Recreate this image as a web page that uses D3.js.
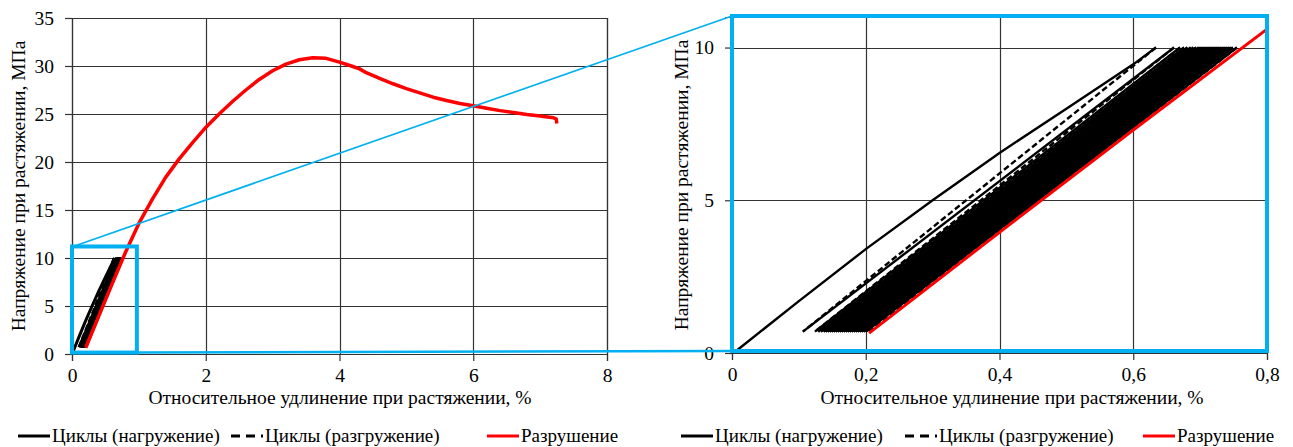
<!DOCTYPE html>
<html>
<head>
<meta charset="utf-8">
<script src="https://cdn.jsdelivr.net/npm/d3@7"></script>
<style>
body{margin:0;background:#fff;}
</style>
</head>
<body>
<div id="chart"></div>
<script>
var w = 1293;
var h = 447;
var serif = "'Liberation Serif'";

// failure curve (Разрушение), strain % / stress MPa
var failX = [0.205, 0.4, 0.6, 0.8, 1.0, 1.2, 1.4, 1.6, 1.8, 2.0, 2.2, 2.4, 2.6, 2.8, 3.0, 3.2, 3.4, 3.6, 3.8, 4.0, 4.2, 4.3, 4.4, 4.6, 4.8, 5.0, 5.2, 5.4, 5.6, 5.8, 6.0, 6.2, 6.4, 6.6, 6.8, 7.0, 7.2, 7.24, 7.25];
var failY = [0.65, 3.95, 7.3, 10.6, 13.6, 16.1, 18.4, 20.3, 22.0, 23.6, 25.0, 26.3, 27.5, 28.6, 29.5, 30.2, 30.65, 30.85, 30.8, 30.4, 29.95, 29.7, 29.3, 28.7, 28.15, 27.65, 27.2, 26.75, 26.4, 26.1, 25.85, 25.6, 25.35, 25.15, 24.95, 24.8, 24.6, 24.5, 24.0];

// first loading from zero
var firstLoadX = [0.008, 0.1, 0.2, 0.3, 0.4, 0.5, 0.6, 0.634];
var firstLoadY = [0.1, 1.7, 3.4, 5.0, 6.55, 8.0, 9.45, 10.0];

// cycles: strain at max stress (one per cycle) and at min stress (start of next loading)
var loadEndX = [0.634, 0.661, 0.670, 0.676, 0.681, 0.686, 0.690, 0.694, 0.698, 0.701, 0.704, 0.707, 0.710, 0.713, 0.716, 0.719, 0.722, 0.725, 0.728, 0.731, 0.734, 0.737, 0.740, 0.743, 0.746, 0.749, 0.755];
var loadStartX = [0.106, 0.124, 0.129, 0.133, 0.137, 0.140, 0.143, 0.146, 0.149, 0.152, 0.155, 0.158, 0.161, 0.164, 0.167, 0.170, 0.173, 0.176, 0.179, 0.182, 0.185, 0.188, 0.191, 0.194, 0.197, 0.200];
var cycleMin = 0.7;
var cycleMax = 10;

var leftXTicks = [0, 2, 4, 6, 8];
var leftYTicks = [0, 5, 10, 15, 20, 25, 30, 35];
var rightXTicks = [0, 0.2, 0.4, 0.6, 0.8];
var rightYTicks = [0, 5, 10];

// zoomed region marked on the left chart
var zoomBoxX = [0, 0.97];
var zoomBoxY = [0.15, 11.2];

var legendNames = ["Циклы (нагружение)", "Циклы (разгружение)", "Разрушение"];
var xTitle = "Относительное удлинение при растяжении, %";
var yTitle = "Напряжение при растяжении, МПа";

var blue = "#00b0f0";
var fmt = function(d){ return String(d).replace(".", ","); };

var svg = d3.select("#chart")
  .append("svg")
  .attr("width", w)
  .attr("height", h)
  .style("background", "#fff");

// build the polylines of the cycles
var loadLines = [];
var unloadLines = [];
loadLines.push(firstLoadX.map(function(x, i){ return [x, firstLoadY[i]]; }));
for (var i = 1; i < loadEndX.length; i++) {
  loadLines.push([[loadStartX[i-1], cycleMin], [loadEndX[i], cycleMax]]);
}
for (var j = 0; j < loadEndX.length; j++) {
  var endX = j < loadStartX.length ? loadStartX[j] : failX[0];
  unloadLines.push([[loadEndX[j], cycleMax], [endX, cycleMin]]);
}
var failLine = failX.map(function(x, i){ return [x, failY[i]]; });

function drawPanel(cfg){
  var xScale = d3.scaleLinear().domain(cfg.xDomain).range([cfg.left, cfg.right]);
  var yScale = d3.scaleLinear().domain(cfg.yDomain).range([cfg.bottom, cfg.top]);
  var g = svg.append("g");

  g.append("clipPath").attr("id", cfg.id)
    .append("rect")
    .attr("x", cfg.left).attr("y", cfg.top)
    .attr("width", cfg.right - cfg.left).attr("height", cfg.bottom - cfg.top);

  // grid
  var gx = cfg.xTicks.concat([cfg.xDomain[1]]);
  var gy = cfg.yTicks.concat([cfg.yDomain[1]]);
  g.selectAll(".vgrid").data(gx).enter().append("line")
    .attr("x1", function(d){ return Math.round(xScale(d)) + 0.5; })
    .attr("x2", function(d){ return Math.round(xScale(d)) + 0.5; })
    .attr("y1", cfg.top).attr("y2", cfg.bottom)
    .attr("stroke", "#333").attr("stroke-width", 1.2);
  g.selectAll(".hgrid").data(gy).enter().append("line")
    .attr("y1", function(d){ return Math.round(yScale(d)) + 0.5; })
    .attr("y2", function(d){ return Math.round(yScale(d)) + 0.5; })
    .attr("x1", cfg.left).attr("x2", cfg.right)
    .attr("stroke", "#333").attr("stroke-width", 1.2);

  // axes
  var ax = g.append("g")
    .attr("transform", "translate(0," + cfg.bottom + ")")
    .call(d3.axisBottom(xScale).tickValues(cfg.xTicks).tickFormat(fmt).tickSizeOuter(0).tickSize(7).tickPadding(7));
  var ay = g.append("g")
    .attr("transform", "translate(" + cfg.left + ",0)")
    .call(d3.axisLeft(yScale).tickValues(cfg.yTicks).tickFormat(fmt).tickSizeOuter(0).tickSize(7).tickPadding(11));
  [ax, ay].forEach(function(a){
    a.attr("font-size", null).attr("font-family", null);
    a.selectAll("text").style("font-size", "19.5px").style("font-family", serif);
    a.selectAll("line,path").attr("stroke", "#333").attr("stroke-width", 1.2);
  });

  var line = d3.line()
    .x(function(d){ return xScale(d[0]); })
    .y(function(d){ return yScale(d[1]); });

  var lines = g.append("g").attr("clip-path", "url(#" + cfg.id + ")");
  lines.selectAll(".unload").data(unloadLines).enter().append("path")
    .attr("d", line).attr("fill", "none")
    .attr("stroke", "#000").attr("stroke-width", cfg.cycleWidth)
    .attr("stroke-dasharray", "6,3");
  lines.selectAll(".load").data(loadLines).enter().append("path")
    .attr("d", line).attr("fill", "none")
    .attr("stroke", "#000").attr("stroke-width", cfg.cycleWidth);
  lines.append("path")
    .attr("d", line(failLine)).attr("fill", "none")
    .attr("stroke", "#ff0000").attr("stroke-width", cfg.redWidth)
    .attr("stroke-linejoin", "round");

  // axis titles
  g.append("text")
    .attr("x", cfg.xTitleX).attr("y", 404)
    .style("text-anchor", "middle").style("font-size", "19.5px").style("font-family", serif)
    .text(xTitle);
  g.append("text")
    .attr("transform", "translate(" + cfg.yTitleX + "," + ((cfg.top + cfg.bottom) / 2) + ") rotate(-90)")
    .style("text-anchor", "middle").style("font-size", "19.5px").style("font-family", serif)
    .text(yTitle);

  // legend
  var styles = [{c: "#000", dash: null}, {c: "#000", dash: "9,6"}, {c: "#ff0000", dash: null}];
  cfg.legendX.forEach(function(lx, k){
    g.append("line")
      .attr("x1", lx).attr("x2", lx + 32).attr("y1", 436).attr("y2", 436)
      .attr("stroke", styles[k].c).attr("stroke-width", 3)
      .attr("stroke-dasharray", styles[k].dash);
    g.append("text")
      .attr("x", lx + 34).attr("y", 442)
      .style("font-size", "19px").style("font-family", serif)
      .text(legendNames[k]);
  });

  return {x: xScale, y: yScale};
}

var leftP = drawPanel({
  id: "clipL", left: 72, right: 607, top: 18, bottom: 354,
  xDomain: [0, 8], yDomain: [0, 35], xTicks: leftXTicks, yTicks: leftYTicks,
  xTitleX: 340, yTitleX: 25, redWidth: 3.5, cycleWidth: 3, legendX: [18, 231, 487]
});
var rightP = drawPanel({
  id: "clipR", left: 732, right: 1267, top: 17, bottom: 353,
  xDomain: [0, 0.8], yDomain: [0, 11], xTicks: rightXTicks, yTicks: rightYTicks,
  xTitleX: 1012, yTitleX: 688, redWidth: 3, cycleWidth: 2.4, legendX: [681, 905, 1143]
});

// zoom frame on the left chart, frame of the right chart and the connectors
svg.append("rect")
  .attr("x", leftP.x(zoomBoxX[0])).attr("y", leftP.y(zoomBoxY[1]))
  .attr("width", leftP.x(zoomBoxX[1]) - leftP.x(zoomBoxX[0]))
  .attr("height", leftP.y(zoomBoxY[0]) - leftP.y(zoomBoxY[1]))
  .attr("fill", "none").attr("stroke", blue).attr("stroke-width", 4);
svg.append("rect")
  .attr("x", rightP.x(0)).attr("y", rightP.y(11) - 1)
  .attr("width", rightP.x(0.8) - rightP.x(0))
  .attr("height", rightP.y(0) - rightP.y(11) - 1)
  .attr("fill", "none").attr("stroke", blue).attr("stroke-width", 4);
svg.append("line")
  .attr("x1", leftP.x(zoomBoxX[0]) + 4).attr("y1", leftP.y(zoomBoxY[1]) - 1)
  .attr("x2", rightP.x(0)).attr("y2", rightP.y(11) - 1)
  .attr("stroke", blue).attr("stroke-width", 1.7);
svg.append("line")
  .attr("x1", leftP.x(zoomBoxX[1])).attr("y1", leftP.y(zoomBoxY[0]))
  .attr("x2", rightP.x(0)).attr("y2", rightP.y(0) - 2)
  .attr("stroke", blue).attr("stroke-width", 2.5);
</script>
</body>
</html>
